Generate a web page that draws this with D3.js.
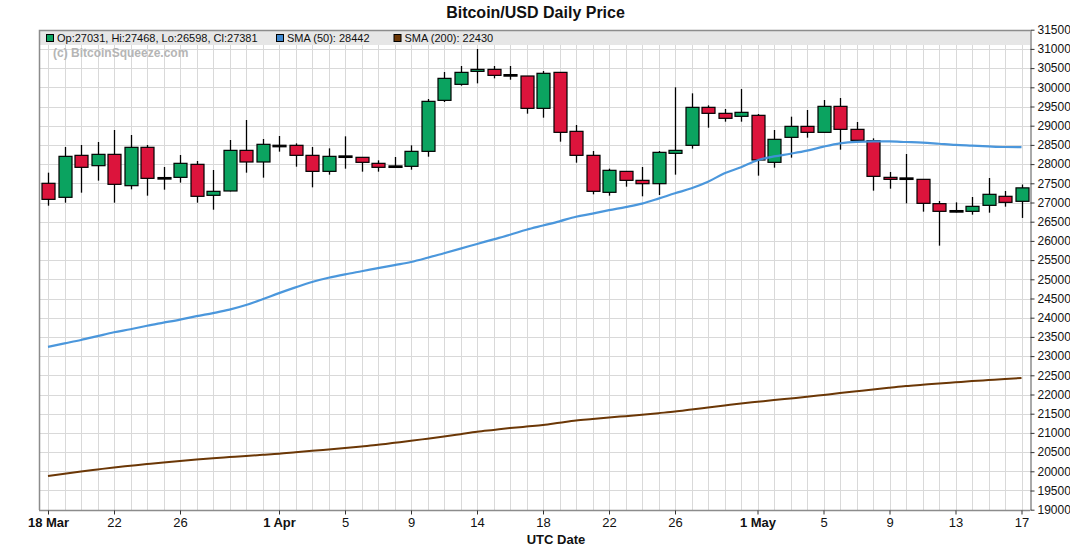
<!DOCTYPE html>
<html><head><meta charset="utf-8">
<script src="https://cdn.jsdelivr.net/npm/d3@7/dist/d3.min.js"></script>
<style>
body{margin:0;background:#fff;}
svg{display:block;font-family:"Liberation Sans",Arial,Helvetica,sans-serif;}
</style>
</head><body>
<svg id="chart" width="1070" height="546"></svg>
<script>
// ---- data ----
const dates = ["03-18","03-19","03-20","03-21","03-22","03-23","03-24","03-25","03-26","03-27","03-28","03-29","03-30","03-31",
  "04-01","04-02","04-03","04-04","04-05","04-06","04-07","04-08","04-09","04-10","04-11","04-13","04-14","04-15","04-16","04-17",
  "04-18","04-19","04-20","04-21","04-22","04-23","04-24","04-25","04-26","04-27","04-28","04-29","04-30",
  "05-01","05-02","05-03","05-04","05-05","05-06","05-07","05-08","05-09","05-10","05-11","05-12","05-13","05-14","05-15","05-16","05-17"];
const opens = [27500,27135,28228,27959,28254,27438,28437,27630,27655,27994,27187,27300,28358,28055,
  28471,28489,28228,27811,28193,28176,28020,27933,27942,28332,29660,30077,30415,30467,30311,30294,
  29452,30389,28853,28228,27265,27811,27577,27490,28280,28489,29478,29322,29244,
  29270,28046,28697,28983,28827,29504,28905,28610,27655,27620,27603,26970,26770,26770,26926,27161,27031];
const highs = [27777,28445,28497,28575,28888,28758,28497,27924,28237,28081,27846,28627,29148,28654,
  28732,28541,28445,28410,28723,28176,28098,28185,28489,29695,30398,30554,30997,30554,30554,30294,
  30424,30389,29018,28341,27881,27811,27924,28341,30000,29843,29530,29435,29955,
  29305,28888,29235,29409,29669,29721,29096,28671,27794,28263,27603,27039,27004,27143,27638,27300,27468];
const lows = [26917,26995,27256,27569,26995,27343,27178,27334,27517,26995,26813,27290,27777,27647,
  28324,27933,27395,27725,27881,27803,27803,27898,27855,28193,29617,30042,30103,30233,30198,29313,
  29209,28584,28037,27213,27178,27412,27161,27195,27725,28402,28948,29105,29105,
  27699,27907,28168,28688,28827,28376,28600,27308,27360,26978,26761,25876,26740,26683,26735,26891,26598];
const closes = [27082,28202,27916,28254,27473,28437,27629,27630,28020,27161,27291,28358,28055,28515,
  28471,28228,27811,28202,28193,28046,27916,27933,28332,29634,30233,30389,30467,30311,30311,29452,
  30364,28827,28228,27291,27838,27577,27490,28306,28358,29478,29322,29192,29348,
  28107,28645,28983,28827,29504,28905,28619,27681,27603,27620,26978,26770,26770,26900,27213,27004,27381];
const sma50 = [23240,23330,23420,23520,23620,23700,23790,23870,23950,24040,24120,24210,24330,24480,
  24640,24790,24930,25040,25130,25210,25290,25370,25450,25560,25680,25800,25920,26040,26160,26290,
  26400,26510,26630,26710,26800,26880,26970,27100,27240,27370,27540,27760,27920,
  28100,28200,28270,28349,28454,28540,28580,28590,28590,28575,28560,28530,28500,28480,28460,28445,28442];
const sma200 = [19875,19935,19995,20048,20100,20144,20188,20231,20270,20306,20340,20370,20400,20428,
  20456,20495,20534,20569,20604,20647,20690,20742,20794,20850,20906,20967,21029,21077,21125,21165,
  21203,21263,21323,21362,21401,21436,21471,21514,21557,21610,21662,21714,21766,
  21810,21854,21897,21940,21988,22036,22083,22130,22175,22219,22253,22287,22318,22349,22375,22401,22430];
const tickDates = ["03-18","03-22","03-26","04-01","04-05","04-09","04-14","04-18","04-22","04-26","05-01","05-05","05-09","05-13","05-17"];
const tickLabels = ["18 Mar","22","26","1 Apr","5","9","14","18","22","26","1 May","5","9","13","17"];
const boldTickLabels = ["18 Mar","1 Apr","1 May"];
const yTickValues = [19000,19500,20000,20500,21000,21500,22000,22500,23000,23500,24000,24500,25000,25500,
  26000,26500,27000,27500,28000,28500,29000,29500,30000,30500,31000,31500];
const legendOHLC = "Op:27031, Hi:27468, Lo:26598, Cl:27381";
const legendSma50 = "SMA (50): 28442";
const legendSma200 = "SMA (200): 22430";

// ---- layout ----
const L = 40, R = 1030, T = 30, B = 510;
const GREEN = "#0ba360", RED = "#dc143c", BLUE = "#4191da", BROWN = "#6b3706";
const svg = d3.select("#chart");

const x = d3.scalePoint().domain(dates).range([48, 1021.5]);
const y = d3.scaleLinear().domain([19000, 31500]).range([509.7, 29.7]);

// grid
const grid = svg.append("g").attr("shape-rendering", "crispEdges");
grid.selectAll("line.h").data(yTickValues).join("line")
  .attr("x1", L).attr("x2", R).attr("y1", d => Math.round(y(d)) + 0.5).attr("y2", d => Math.round(y(d)) + 0.5)
  .attr("stroke", "#d9d9d9").attr("stroke-width", 1);
grid.selectAll("line.v").data(dates).join("line")
  .attr("x1", d => Math.round(x(d)) + 0.5).attr("x2", d => Math.round(x(d)) + 0.5).attr("y1", T).attr("y2", B)
  .attr("stroke", "#d9d9d9").attr("stroke-width", 1);

// candles
const idx = d3.range(dates.length);
const cg = svg.append("g");
cg.selectAll("line.wick").data(idx).join("line")
  .attr("x1", i => Math.round(x(dates[i])) + 0.5).attr("x2", i => Math.round(x(dates[i])) + 0.5)
  .attr("y1", i => y(highs[i])).attr("y2", i => y(lows[i]))
  .attr("stroke", "#000").attr("stroke-width", 1.3);
cg.selectAll("rect.body").data(idx).join("rect")
  .attr("x", i => Math.round(x(dates[i])) - 6)
  .attr("width", 13)
  .attr("y", i => {
    const t = y(Math.max(opens[i], closes[i])), b = y(Math.min(opens[i], closes[i]));
    return (b - t) < 1.5 ? (t + b) / 2 - 0.75 : t;
  })
  .attr("height", i => Math.max(1.5, y(Math.min(opens[i], closes[i])) - y(Math.max(opens[i], closes[i]))))
  .attr("fill", i => closes[i] > opens[i] ? GREEN : (closes[i] < opens[i] ? RED : "#000"))
  .attr("stroke", "#000").attr("stroke-width", 1.2);

// SMA lines
const line = d3.line().x((v, i) => x(dates[i])).y(v => y(v)).curve(d3.curveMonotoneX);
svg.append("path").datum(sma200).attr("d", line).attr("fill", "none")
  .attr("stroke", BROWN).attr("stroke-width", 2);
svg.append("path").datum(sma50).attr("d", line).attr("fill", "none")
  .attr("stroke", BLUE).attr("stroke-width", 2.2).attr("stroke-opacity", 0.95);

// legend band
svg.append("rect").attr("x", L).attr("y", T + 1).attr("width", R - L).attr("height", 14).attr("fill", "#e6e6e6");
const leg = svg.append("g").attr("font-size", "11px").attr("fill", "#111");
const legItems = [
  {x: 46, color: GREEN, text: legendOHLC},
  {x: 276, color: "#3d87cf", text: legendSma50},
  {x: 393.5, color: BROWN, text: legendSma200}
];
legItems.forEach(it => {
  leg.append("rect").attr("x", it.x + 0.5).attr("y", 34.5).attr("width", 7).attr("height", 7)
    .attr("fill", it.color).attr("stroke", "#000").attr("stroke-width", 1);
  leg.append("text").attr("x", it.x + 11).attr("y", 42).text(it.text);
});

// watermark
svg.append("text").attr("x", 53).attr("y", 57).attr("font-size", "12px").attr("font-weight", "bold")
  .attr("fill", "#b5b5b5").text("(c) BitcoinSqueeze.com");

// frame
svg.append("path").attr("d", `M${L - 0.5},${B} V${T + 0.5} H${R}`).attr("fill", "none")
  .attr("stroke", "#8c8c8c").attr("stroke-width", 1.5);

// y axis (right)
const yAxis = svg.append("g").attr("transform", `translate(${R + 0.5},0)`)
  .call(d3.axisRight(y).tickValues(yTickValues).tickFormat(d3.format("d")).tickSize(4).tickPadding(3).tickSizeOuter(0));
yAxis.select(".domain").attr("stroke", "#8c8c8c").attr("stroke-width", 1.5);
yAxis.selectAll(".tick line").attr("stroke", "#333");
yAxis.selectAll("text").attr("font-size", "12px").attr("fill", "#111")
  .attr("font-family", "'Liberation Sans',Arial,sans-serif");

// x axis
const xAxis = svg.append("g").attr("transform", `translate(0,${B + 0.5})`)
  .call(d3.axisBottom(x).tickValues(tickDates).tickFormat((d, i) => tickLabels[i]).tickSize(4).tickPadding(3).tickSizeOuter(0));
xAxis.select(".domain").attr("d", `M${L - 1},0H${R}`).attr("stroke", "#8c8c8c").attr("stroke-width", 1.5);
xAxis.selectAll(".tick line").attr("stroke", "#333");
xAxis.selectAll("text").attr("font-size", "13px").attr("fill", "#111")
  .attr("font-family", "'Liberation Sans',Arial,sans-serif")
  .attr("font-weight", (d, i) => boldTickLabels.includes(tickLabels[i]) ? "bold" : "normal");

// titles
svg.append("text").attr("x", 535.5).attr("y", 18).attr("text-anchor", "middle")
  .attr("font-size", "16px").attr("font-weight", "bold").attr("fill", "#111").text("Bitcoin/USD Daily Price");
svg.append("text").attr("x", 556).attr("y", 544).attr("text-anchor", "middle")
  .attr("font-size", "13px").attr("font-weight", "bold").attr("fill", "#111").text("UTC Date");
</script>
</body></html>
